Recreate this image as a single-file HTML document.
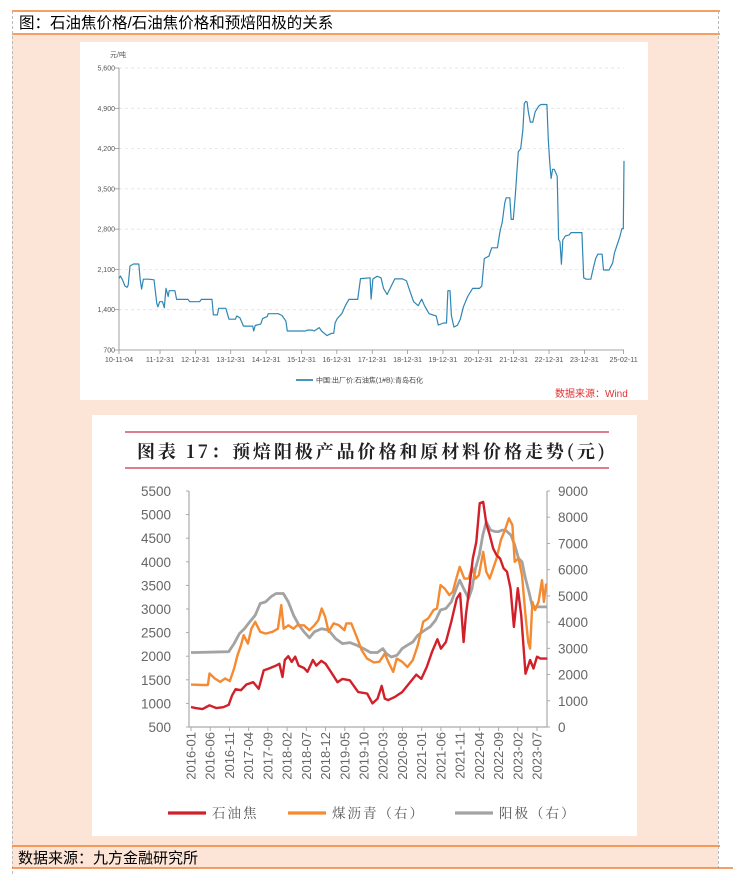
<!DOCTYPE html>
<html><head><meta charset="utf-8"><style>
html,body{margin:0;padding:0;background:#fff;width:733px;height:876px;overflow:hidden;font-family:"Liberation Sans","Noto Sans CJK SC",sans-serif}
svg{position:absolute;left:0;top:0}
</style></head><body>
<svg width="733" height="876">
<rect x="12" y="35" width="706" height="833" fill="#fce4d6"/>
<line x1="12" y1="11" x2="720" y2="11" stroke="#f08030" stroke-width="1.5"/>
<line x1="12" y1="34" x2="720" y2="34" stroke="#f08030" stroke-width="1.5"/>
<line x1="12.5" y1="11" x2="12.5" y2="876" stroke="#bbb" stroke-dasharray="3,2"/>
<line x1="718.5" y1="11" x2="718.5" y2="868" stroke="#bbb" stroke-dasharray="3,2"/>
<text x="19" y="28" font-size="15.5" fill="#000">图：石油焦价格/石油焦价格和预焙阳极的关系</text>
<line x1="12" y1="846" x2="720" y2="846" stroke="#f08030" stroke-width="1.5"/>
<line x1="12" y1="868" x2="733" y2="868" stroke="#f08030" stroke-width="1.5"/>
<text x="18" y="863" font-size="15" fill="#000">数据来源：九方金融研究所</text>

<rect x="80" y="42" width="568" height="358" fill="#fff"/>
<g id="top"></g>
<rect x="92" y="415" width="545" height="421" fill="#fff"/>
<line x1="125" y1="432" x2="609" y2="432" stroke="#c8324a" stroke-width="1.2"/>
<line x1="125" y1="468" x2="609" y2="468" stroke="#c8324a" stroke-width="1.2"/>
<text x="137" y="458" font-size="18" font-weight="bold" fill="#222" textLength="468" lengthAdjust="spacing" font-family="'Noto Serif CJK SC','Noto Sans CJK SC',serif">图表 17：预焙阳极产品价格和原材料价格走势(元)</text>
<g id="bot"></g>
</svg>
<script>
const NS="http://www.w3.org/2000/svg";
function mk(p,t,a,txt){const e=document.createElementNS(NS,t);for(const k in a)e.setAttribute(k,a[k]);if(txt!==undefined)e.textContent=txt;p.appendChild(e);return e;}

// ---- top chart data ----
const topYTicks=[700,1400,2100,2800,3500,4200,4900,5600];
const topXLabels=["10-11-04","11-12-31","12-12-31","13-12-31","14-12-31","15-12-31","16-12-31","17-12-31","18-12-31","19-12-31","20-12-31","21-12-31","22-12-31","23-12-31","25-02-11"];
const topXDates=[2010.84,2012,2013,2014,2015,2016,2017,2018,2019,2020,2021,2022,2023,2024,2025.11];
const topDates=[2010.84,2010.88,2010.94,2011.01,2011.07,2011.10,2011.15,2011.25,2011.40,2011.44,2011.48,2011.53,2011.68,2011.83,2011.91,2011.94,2011.99,2012.07,2012.12,2012.17,2012.23,2012.26,2012.42,2012.47,2012.79,2012.84,2013.12,2013.17,2013.47,2013.51,2013.62,2013.66,2013.86,2013.95,2014.13,2014.17,2014.26,2014.36,2014.62,2014.65,2014.69,2014.85,2014.90,2015.03,2015.06,2015.34,2015.45,2015.56,2015.60,2016.11,2016.17,2016.31,2016.36,2016.50,2016.57,2016.72,2016.80,2016.85,2016.91,2016.95,2017.01,2017.14,2017.24,2017.34,2017.59,2017.67,2017.94,2017.97,2018.02,2018.14,2018.25,2018.32,2018.42,2018.64,2018.86,2018.97,2019.04,2019.17,2019.30,2019.40,2019.48,2019.61,2019.81,2019.87,2020.02,2020.10,2020.14,2020.20,2020.24,2020.31,2020.41,2020.49,2020.58,2020.70,2020.84,2021.03,2021.10,2021.17,2021.30,2021.38,2021.54,2021.61,2021.68,2021.75,2021.79,2021.89,2021.93,2021.99,2022.05,2022.13,2022.20,2022.26,2022.30,2022.34,2022.38,2022.41,2022.47,2022.54,2022.61,2022.71,2022.77,2022.94,2022.98,2023.02,2023.06,2023.10,2023.15,2023.23,2023.27,2023.31,2023.35,2023.39,2023.46,2023.57,2023.62,2023.93,2023.98,2024.05,2024.18,2024.26,2024.32,2024.38,2024.50,2024.54,2024.70,2024.80,2024.85,2024.94,2025.00,2025.06,2025.10,2025.12];
const topVals=[1944,1985,1920,1810,1790,1830,2160,2195,2195,1920,1760,1930,1930,1920,1510,1450,1540,1540,1435,1770,1630,1730,1730,1580,1580,1540,1540,1580,1580,1310,1310,1425,1425,1235,1235,1290,1260,1115,1115,1030,1125,1150,1245,1280,1330,1330,1300,1200,1030,1030,1045,1045,1030,1090,1030,950,975,990,990,1170,1245,1330,1470,1580,1580,1940,1955,1585,1935,1980,1955,1770,1665,1935,1935,1900,1770,1540,1470,1585,1470,1330,1290,1135,1170,1170,1730,1730,1300,1100,1130,1235,1450,1630,1770,1770,1810,2290,2330,2475,2475,2750,2930,3260,3345,3345,2970,2970,3410,4145,4200,4530,4980,5020,5010,4855,4660,4660,4840,4940,4965,4965,4355,3970,3680,3840,3840,3720,2620,2580,2190,2610,2680,2700,2740,2740,1955,1930,1930,2145,2290,2365,2365,2090,2090,2215,2390,2550,2665,2810,2810,3985];

(function(){
 const g=document.getElementById('top');
 const X0=119,X1=624,Y0=350,Y1=68;
 const xs=d=>X0+(d-2010.84)/(2025.12-2010.84)*(X1-X0);
 const ys=v=>Y0-(v-700)/(5600-700)*(Y0-Y1);
 topYTicks.forEach(v=>{
  if(v>700){const l=mk(g,'line',{x1:X0,x2:X1,y1:ys(v),y2:ys(v),stroke:'#ddd','stroke-dasharray':'3,3','stroke-width':0.7});
  
  }
  const tk=mk(g,'line',{x1:X0-4,x2:X0,y1:ys(v),y2:ys(v),stroke:'#888','stroke-width':0.7});
  
  
  const t=mk(g,'text',{x:X0-4,y:ys(v)+2.5,'font-size':7,fill:'#555','text-anchor':'end'},v.toLocaleString('en-US'));
  
  
 });
 const ax=mk(g,'line',{x1:X0,x2:X0,y1:Y1,y2:Y0,stroke:'#888','stroke-width':0.8});
 
 
 const bx=mk(g,'line',{x1:X0,x2:X1,y1:Y0,y2:Y0,stroke:'#888','stroke-width':0.8});
 
 
 topXDates.forEach((d,i)=>{
  const tk=mk(g,'line',{x1:xs(d),x2:xs(d),y1:Y0,y2:Y0+4,stroke:'#888','stroke-width':0.7});
  
  
  const t=mk(g,'text',{x:xs(d),y:Y0+12,'font-size':7.2,fill:'#555','text-anchor':'middle'},topXLabels[i]);
  
  
 });
 const u=mk(g,'text',{x:110,y:57,'font-size':7,fill:'#555'},'元/吨');
 
 
 const n=Math.min(topDates.length,topVals.length);
 const pts=[];for(let i=0;i<n;i++)pts.push(xs(topDates[i]).toFixed(1)+','+ys(topVals[i]).toFixed(1));
 const p=mk(g,'polyline',{points:pts.join(' '),fill:'none',stroke:'#2f86b5','stroke-width':1.2,'stroke-linejoin':'round'});
 
 
 const ll=mk(g,'line',{x1:296,x2:313,y1:380,y2:380,stroke:'#2f86b5','stroke-width':1.8});
 
 
 const lt=mk(g,'text',{x:316,y:382.5,'font-size':7,fill:'#444'},'中国:出厂价:石油焦(1#B):青岛石化');
 
 
 const src=mk(g,'text',{x:555,y:397,'font-size':10,fill:'#e03030'},'数据来源：Wind');
 
 
})();

// ---- bottom chart data ----
const leftTicks=[500,1000,1500,2000,2500,3000,3500,4000,4500,5000,5500];
const rightTicks=[0,1000,2000,3000,4000,5000,6000,7000,8000,9000];
const monthLabels=["2016-01","2016-06","2016-11","2017-04","2017-09","2018-02","2018-07","2018-12","2019-05","2019-10","2020-03","2020-08","2021-01","2021-06","2021-11","2022-04","2022-09","2023-02","2023-07"];
const cokeMonths=[0,1.2,3.0,4.8,6.6,8.4,9.8,10.7,11.6,13.0,14.4,16.2,17.6,18.9,20.3,22.1,23.0,23.8,24.4,25.3,26.2,27.1,28.0,29.4,30.3,31.7,32.6,33.9,35.0,36.7,38.1,39.4,41.3,43.5,45.8,47.2,48.5,49.6,50.4,51.3,53.1,54.9,56.7,58.6,59.9,61.3,62.7,64.1,65.0,66.3,67.7,69.1,70.0,70.9,71.5,72.4,73.3,74.2,75.1,76.0,76.8,77.7,78.6,79.5,80.4,81.3,82.2,83.1,84.0,85.0,85.9,87.0,88.2,89.1,90.0,90.9,92.7];
const cokeVals=[924,900,880,960,900,920,970,1170,1300,1280,1400,1450,1310,1700,1740,1800,1840,1560,1920,2000,1880,1990,1800,1750,1670,1920,1800,1900,1840,1630,1450,1520,1490,1240,1210,1000,1100,1370,1100,1070,1140,1240,1420,1610,1520,1770,2090,2360,2160,2300,2730,3220,3330,2300,2870,3440,4070,4420,5240,5270,4810,4570,4280,4140,4070,3860,3790,3440,2620,3440,2870,1630,1920,1740,1990,1950,1950];
const pitchMonths=[0,3.0,4.4,4.8,6.2,7.6,8.9,10.1,11.2,12.1,13.0,13.7,14.8,15.7,16.7,18.0,19.4,21.2,22.6,23.5,24.1,25.3,26.7,27.6,29.4,30.8,32.1,33.1,34.0,34.9,35.8,37.1,38.5,39.9,40.4,41.7,43.1,44.4,45.8,47.6,49.0,50.4,51.3,52.6,53.5,54.9,56.3,57.7,59.0,60.4,61.7,63.1,64.0,64.9,66.0,67.2,68.1,69.0,69.9,71.1,72.2,73.1,74.0,74.9,76.0,76.8,77.7,78.6,79.5,80.6,81.8,82.7,83.6,84.2,85.2,86.1,87.0,87.7,88.2,88.8,89.5,90.4,91.3,91.8,92.4];
const pitchVals=[1617,1600,1600,2040,1850,1720,1850,1750,2230,2740,3120,3500,3180,3750,4010,3630,3560,3630,3750,4650,3750,3880,3750,3880,3880,3690,3880,4070,4520,4200,3630,3950,3880,3690,3950,3950,3440,2930,2610,2460,2490,2800,2490,2100,2610,2490,2290,2550,3120,4010,4140,4460,4520,5410,5280,5030,5160,5660,6110,5660,5660,6110,5660,5790,6680,5920,5660,6050,6430,7130,7570,7960,7700,6300,6430,5790,4260,3240,2990,4770,4460,4770,5600,4770,5470];
const anodeMonths=[0,1.2,9.8,11.2,12.6,13.9,15.3,16.7,18.0,19.4,20.8,22.1,24.0,25.3,26.7,28.1,29.4,30.8,32.1,34.0,35.8,37.6,39.4,41.3,43.1,44.9,46.7,48.5,49.9,50.8,52.1,53.6,54.9,56.3,57.7,59.0,60.8,62.2,63.6,64.9,66.3,67.7,69.0,69.9,70.9,72.2,73.1,74.0,75.0,75.9,76.8,77.9,79.1,80.0,80.9,81.8,83.2,84.2,85.2,86.1,87.0,87.9,88.8,90.0,92.7];
const anodeVals=[2840,2840,2870,3180,3560,3750,4010,4260,4710,4770,4970,5090,5090,4770,4260,3880,3630,3400,3630,3750,3690,3370,3180,3220,3120,2990,2840,2840,2990,2800,2670,2740,2990,3120,3240,3500,3690,3820,4070,4460,4520,4770,5280,5600,5280,4900,5280,6050,6560,7320,7830,7510,7450,7450,7510,7510,7320,6940,6430,6300,5660,5160,4580,4580,4580];
(function(){
 const g=document.getElementById('bot');
 const X0=191,PM=(537-191)/90,XA=189,XR=547,Y0=727,Y1=491;
 const xs=m=>X0+m*PM;
 const yl=v=>Y0-(v-500)/5000*(Y0-Y1);
 const yr=v=>Y0-v/9000*(Y0-Y1);
 const a1=mk(g,'line',{x1:XA,x2:XA,y1:Y1,y2:Y0,stroke:'#aaa','stroke-width':1.2});
 
 
 const a2=mk(g,'line',{x1:XR,x2:XR,y1:Y1,y2:Y0,stroke:'#aaa','stroke-width':1.2});
 
 
 const a3=mk(g,'line',{x1:XA,x2:XR,y1:Y0,y2:Y0,stroke:'#aaa','stroke-width':1.2});
 
 
 leftTicks.forEach(v=>{
  const tk=mk(g,'line',{x1:XA-3,x2:XA,y1:yl(v),y2:yl(v),stroke:'#aaa'});
  
  
  const t=mk(g,'text',{x:171,y:yl(v)+5,'font-size':13.5,fill:'#666','text-anchor':'end'},v);
  
  
 });
 rightTicks.forEach(v=>{
  const tk=mk(g,'line',{x1:XR,x2:XR+3,y1:yr(v),y2:yr(v),stroke:'#aaa'});
  
  
  const t=mk(g,'text',{x:558,y:yr(v)+5,'font-size':13.5,fill:'#666'},v);
  
  
 });
 monthLabels.forEach((s,i)=>{
  const x=xs(i*5);
  const tk=mk(g,'line',{x1:x,x2:x,y1:Y0,y2:Y0+4,stroke:'#aaa'});
  
  
  const t=mk(g,'text',{x:x+4.5,y:Y0+5,'font-size':13,fill:'#666','text-anchor':'end',transform:`rotate(-90 ${x+4.5} ${Y0+5})`},s);
  
  
 });
 function series(ms,vs,sc,col,name,w){
  const n=Math.min(ms.length,vs.length);
  const pts=[];for(let i=0;i<n;i++)pts.push(xs(ms[i]).toFixed(1)+','+sc(vs[i]).toFixed(1));
  const p=mk(g,'polyline',{points:pts.join(' '),fill:'none',stroke:col,'stroke-width':w,'stroke-linejoin':'round'});
  
  
 }
 series(anodeMonths,anodeVals,yr,'#a3a3a3','anode-line',2.8);
 series(pitchMonths,pitchVals,yr,'#f48a32','coal-pitch-line',2.4);
 series(cokeMonths,cokeVals,yl,'#d2202a','petroleum-coke-line',2.4);
 const leg=[[168,'#d2202a','石油焦'],[288,'#f48a32','煤沥青（右）'],[455,'#a3a3a3','阳极（右）']];
 leg.forEach(l=>{
  const sw=mk(g,'line',{x1:l[0],x2:l[0]+38,y1:813,y2:813,stroke:l[1],'stroke-width':3.2});
  
  
  const t=mk(g,'text',{x:l[0]+44,y:818,'font-size':13.5,fill:'#555','letter-spacing':2,'font-family':"'Noto Serif CJK SC',serif"},l[2]);
  
  
 });
})();
</script>
</body></html>
